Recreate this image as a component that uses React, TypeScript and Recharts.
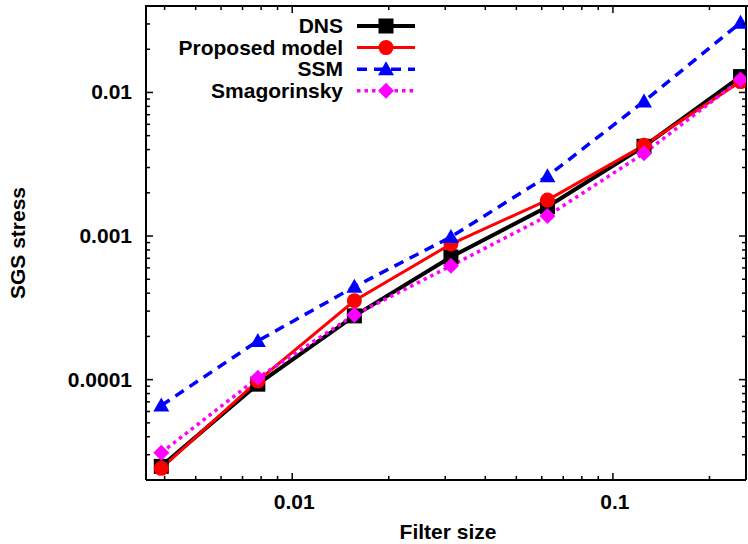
import React from 'react';
import { LineChart, Line, XAxis, YAxis, ReferenceLine } from 'recharts';

// filter widths 1/256 ... 1/4
const filterSizes = [0.00390625, 0.0078125, 0.015625, 0.03125, 0.0625, 0.125, 0.25];
const dnsValues = [2.49e-5, 9.3e-5, 2.78e-4, 7.15e-4, 1.6e-3, 4.22e-3, 0.0129];
const proposedValues = [2.41e-5, 9.8e-5, 3.54e-4, 8.8e-4, 1.78e-3, 4.28e-3, 0.0119];
const ssmValues = [6.6e-5, 1.86e-4, 4.43e-4, 9.85e-4, 2.61e-3, 8.66e-3, 0.0306];
const smagValues = [3.1e-5, 1.03e-4, 2.82e-4, 6.2e-4, 1.38e-3, 3.77e-3, 0.0123];

const xMajorTicks = [0.01, 0.1];
const xMajorLabels = ['0.01', '0.1'];
const yMajorTicks = [0.0001, 0.001, 0.01];
const yMajorLabels = ['0.0001', '0.001', '0.01'];

const X_DOMAIN = [0.0035, 0.26];
const Y_DOMAIN = [2e-5, 0.04];

const FONT = '"Liberation Sans", Arial, Helvetica, sans-serif';

const data = filterSizes.map((x, i) => ({
  x,
  dns: dnsValues[i],
  proposed: proposedValues[i],
  ssm: ssmValues[i],
  smag: smagValues[i],
}));

// major + minor decade ticks inside a domain
const logTicks = (lo: number, hi: number) => {
  const out: number[] = [];
  for (let e = Math.floor(Math.log10(lo)); e <= Math.ceil(Math.log10(hi)); e++) {
    for (let m = 1; m <= 9; m++) {
      const v = parseFloat((m * Math.pow(10, e)).toPrecision(6));
      if (v >= lo * 0.9999 && v <= hi * 1.0001) out.push(v);
    }
  }
  return out;
};
const xTicks = logTicks(X_DOMAIN[0], X_DOMAIN[1]);
const yTicks = logTicks(Y_DOMAIN[0], Y_DOMAIN[1]);

const makeTick = (side: 'bottom' | 'top' | 'left' | 'right') => (props: any) => {
  const { x, y, payload } = props;
  const v = payload.value;
  const horiz = side === 'bottom' || side === 'top';
  const majors = horiz ? xMajorTicks : yMajorTicks;
  const labels = horiz ? xMajorLabels : yMajorLabels;
  const idx = majors.findIndex((m) => Math.abs(v - m) / m < 1e-6);
  const len = idx >= 0 ? 7 : 4;
  let line;
  if (side === 'bottom') line = <line x1={x} y1={y} x2={x} y2={y - len} stroke="#000" strokeWidth={1.5} />;
  else if (side === 'top') line = <line x1={x} y1={y} x2={x} y2={y + len} stroke="#000" strokeWidth={1.5} />;
  else if (side === 'left') line = <line x1={x} y1={y} x2={x + len} y2={y} stroke="#000" strokeWidth={1.5} />;
  else line = <line x1={x} y1={y} x2={x - len} y2={y} stroke="#000" strokeWidth={1.5} />;
  return (
    <g>
      {line}
      {idx >= 0 && side === 'bottom' && (
        <text x={x + 2} y={y + 29} textAnchor="middle" fontFamily={FONT} fontWeight="bold" fontSize={21} fill="#000">
          {labels[idx]}
        </text>
      )}
      {idx >= 0 && side === 'left' && (
        <text x={x - 14} y={y + 7} textAnchor="end" fontFamily={FONT} fontWeight="bold" fontSize={21} fill="#000">
          {labels[idx]}
        </text>
      )}
    </g>
  );
};

const Square = ({ cx, cy }: any) => <rect x={cx - 7.5} y={cy - 7.5} width={15} height={15} fill="#000" />;
const Circle = ({ cx, cy }: any) => <circle cx={cx} cy={cy} r={7.5} fill="#ff0000" />;
const Triangle = ({ cx, cy }: any) => (
  <polygon points={`${cx},${cy - 8} ${cx - 8},${cy + 6} ${cx + 8},${cy + 6}`} fill="#0000ff" />
);
const Diamond = ({ cx, cy }: any) => (
  <polygon points={`${cx},${cy - 8} ${cx + 8},${cy} ${cx},${cy + 8} ${cx - 8},${cy}`} fill="#ff00ff" />
);

const series = [
  { key: 'dns', name: 'DNS', color: '#000000', width: 4, dash: undefined, Marker: Square },
  { key: 'proposed', name: 'Proposed model', color: '#ff0000', width: 3, dash: undefined, Marker: Circle },
  { key: 'ssm', name: 'SSM', color: '#0000ff', width: 3.5, dash: '10 7', Marker: Triangle },
  { key: 'smag', name: 'Smagorinsky', color: '#ff00ff', width: 3.5, dash: '3.5 4', Marker: Diamond },
];

const LegendBox = () => (
  <svg width={300} height={95} style={{ display: 'block' }}>
    {series.map((s, i) => {
      const y = 14 + i * 21.6;
      return (
        <g key={s.key}>
          <text x={203} y={y + 7} textAnchor="end" fontFamily={FONT} fontWeight="bold" fontSize={21} fill="#000">
            {s.name}
          </text>
          <line x1={217} y1={y} x2={275} y2={y} stroke={s.color} strokeWidth={s.width} strokeDasharray={s.dash} />
          <s.Marker cx={246} cy={y} />
        </g>
      );
    })}
  </svg>
);

export default function App() {
  return (
    <div style={{ position: 'absolute', left: 0, top: 0, width: 748, height: 544, background: '#fff' }}>
      <LineChart width={748} height={544} data={data} margin={{ top: 0, right: 1, bottom: 0, left: 0 }}>
        <XAxis
          xAxisId="b"
          dataKey="x"
          type="number"
          scale="log"
          domain={X_DOMAIN}
          allowDataOverflow
          ticks={xTicks}
          interval={0}
          tickSize={0}
          tickMargin={0}
          height={64}
          axisLine={{ stroke: '#000', strokeWidth: 2 }}
          tickLine={false}
          tick={makeTick('bottom')}
          label={{
            content: (p: any) => (
              <text
                x={p.viewBox.x + p.viewBox.width / 2 + 2}
                y={p.viewBox.y + 59}
                textAnchor="middle"
                fontFamily={FONT}
                fontWeight="bold"
                fontSize={21}
                fill="#000"
              >
                Filter size
              </text>
            ),
          }}
        />
        {/* mirrored top border with inward ticks */}
        <XAxis
          xAxisId="t"
          orientation="top"
          dataKey="x"
          type="number"
          scale="log"
          domain={X_DOMAIN}
          allowDataOverflow
          ticks={xTicks}
          interval={0}
          tickSize={0}
          tickMargin={0}
          height={6}
          axisLine={{ stroke: '#000', strokeWidth: 2 }}
          tickLine={false}
          tick={makeTick('top')}
        />
        <YAxis
          yAxisId="l"
          type="number"
          scale="log"
          domain={Y_DOMAIN}
          allowDataOverflow
          ticks={yTicks}
          interval={0}
          tickSize={0}
          tickMargin={0}
          width={146}
          axisLine={{ stroke: '#000', strokeWidth: 2 }}
          tickLine={false}
          tick={makeTick('left')}
          label={{
            content: (p: any) => {
              const cx = 17;
              const cy = p.viewBox.y + p.viewBox.height / 2;
              return (
                <text
                  x={cx}
                  y={cy}
                  transform={`rotate(-90 ${cx} ${cy})`}
                  textAnchor="middle"
                  dominantBaseline="central"
                  fontFamily={FONT}
                  fontWeight="bold"
                  fontSize={21}
                  fill="#000"
                >
                  SGS stress
                </text>
              );
            },
          }}
        />
        <YAxis
          yAxisId="r"
          orientation="right"
          type="number"
          scale="log"
          domain={Y_DOMAIN}
          allowDataOverflow
          ticks={yTicks}
          interval={0}
          tickSize={0}
          tickMargin={0}
          width={1}
          axisLine={{ stroke: '#000', strokeWidth: 2 }}
          tickLine={false}
          tick={makeTick('right')}
        />
        <ReferenceLine xAxisId="b" yAxisId="l" y={Y_DOMAIN[1]} stroke="#000" strokeWidth={2} ifOverflow="visible" />
        {series.map((s) => (
          <Line
            key={s.key}
            xAxisId="b"
            yAxisId="l"
            type="linear"
            dataKey={s.key}
            name={s.name}
            stroke={s.color}
            strokeWidth={s.width}
            strokeDasharray={s.dash}
            dot={(p: any) => <s.Marker key={`${s.key}-${p.index}`} cx={p.cx} cy={p.cy} />}
            activeDot={false}
            isAnimationActive={false}
          />
        ))}
      </LineChart>
      {/* top frame edge, kept as a plain overlay so it always shows */}
      <div style={{ position: 'absolute', left: 145, top: 5, width: 603, height: 0, borderTop: '2px solid #000' }} />
      <div style={{ position: 'absolute', left: 140, top: 12 }}>
        <LegendBox />
      </div>
    </div>
  );
}
